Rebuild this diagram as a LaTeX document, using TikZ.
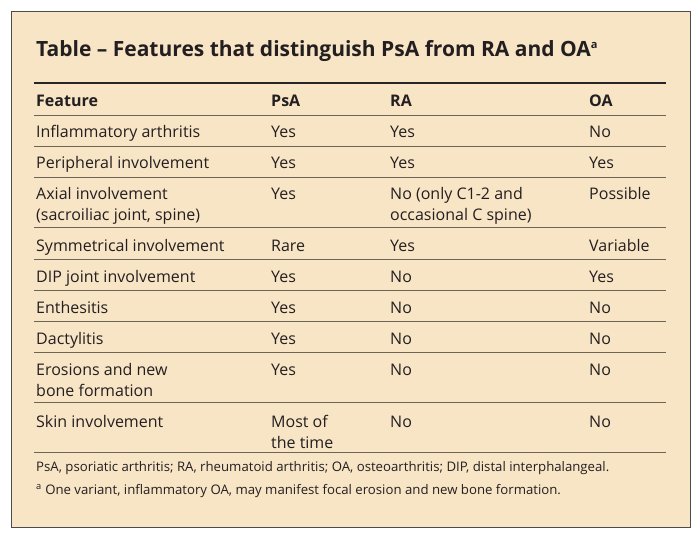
\documentclass[tikz,border=0pt]{standalone}
\usepackage{fontspec}
\setmainfont{Open Sans}
\usepackage{tikz}
\definecolor{paper}{HTML}{F8E5C6}
\definecolor{rulecol}{HTML}{6E6455}
\definecolor{ink}{HTML}{231F20}

\begin{document}
\begin{tikzpicture}[x=1pt,y=-1pt]
  \tikzset{cell/.style={anchor=base west, inner sep=0, text=ink, font=\fontsize{16}{21}\selectfont, align=left},
           head/.style={cell, font=\fontsize{16}{21}\selectfont\bfseries},
           note/.style={anchor=base west, inner sep=0, text=ink, font=\fontsize{13.2}{15}\selectfont},
           thinrule/.style={rulecol, line width=0.7pt},
           thickrule/.style={black!85, line width=1.6pt}}
  \useasboundingbox (0,0) rectangle (700,538);
  \draw [fill=paper, draw=black!70, line width=0.8pt] (11,11) rectangle (690,527);
  \node [anchor=base west, inner sep=0, text=ink, font=\fontsize{21}{24}\selectfont\bfseries] (title) at (36,56) {Table -- Features that distinguish PsA from RA and OA\textsuperscript{\fontsize{11}{11}\selectfont a}};
  \draw [thickrule] (34,83) -- (666,83);
  % header
  \node [head] (h1) at (36,106) {Feature};
  \node [head] (h2) at (271,106) {PsA};
  \node [head] (h3) at (390,106) {RA};
  \node [head] (h4) at (589,106) {OA};
  \draw [thinrule] (34,115) -- (666,115);
  % rows (y = last baseline)
  \foreach \y/\a/\b/\c/\d [count=\i] in {
      137/Inflammatory arthritis/Yes/Yes/No,
      168/Peripheral involvement/Yes/Yes/Yes,
      220/{Axial involvement\\(sacroiliac joint, spine)}/{Yes\\\mbox{}}/{No (only C1-2 and\\occasional C spine)}/{Possible\\\mbox{}},
      251/Symmetrical involvement/Rare/Yes/Variable,
      282/DIP joint involvement/Yes/No/Yes,
      313/Enthesitis/Yes/No/No,
      344/Dactylitis/Yes/No/No,
      396/{Erosions and new\\bone formation}/{Yes\\\mbox{}}/{No\\\mbox{}}/{No\\\mbox{}},
      448/{Skin involvement\\\mbox{}}/{Most of\\the time}/{No\\\mbox{}}/{No\\\mbox{}}} {
    \node [cell] (r\i a) at (36,\y) {\a};
    \node [cell] (r\i b) at (271,\y) {\b};
    \node [cell] (r\i c) at (390,\y) {\c};
    \node [cell] (r\i d) at (589,\y) {\d};
  }
  \foreach \y in {146,177,227,259,290,321,352,402} {\draw [thinrule] (34,\y) -- (666,\y);}
  \draw [thinrule] (34,452) -- (666,452);
  \node [note] (n1) at (36,471) {PsA, psoriatic arthritis; RA, rheumatoid arthritis; OA, osteoarthritis; DIP, distal interphalangeal.};
  \node [note] (n2) at (36,494) {\textsuperscript{a} One variant, inflammatory OA, may manifest focal erosion and new bone formation.};
\end{tikzpicture}
\end{document}
